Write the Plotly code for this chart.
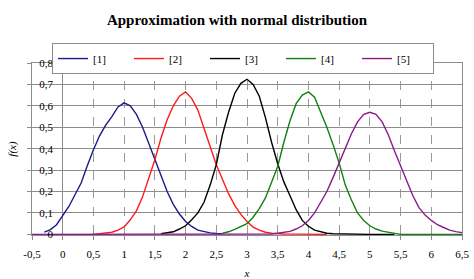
import plotly.graph_objects as go

# ---- data ----
x1 = [-0.3, -0.2, -0.1, 0.0, 0.1, 0.2, 0.3, 0.4, 0.5, 0.6, 0.7, 0.8, 0.9, 1.0, 1.1, 1.2, 1.3,
      1.4, 1.5, 1.6, 1.7, 1.8, 1.9, 2.0, 2.1, 2.2, 2.3, 2.4, 2.5, 2.6]
y1 = [0.01, 0.022, 0.045, 0.085, 0.13, 0.185, 0.24, 0.32, 0.395, 0.46, 0.51, 0.55, 0.595, 0.614,
      0.60, 0.56, 0.50, 0.425, 0.348, 0.27, 0.20, 0.14, 0.095, 0.06, 0.037, 0.02, 0.012, 0.007,
      0.004, 0.003]

x2 = [0.5, 0.6, 0.7, 0.8, 0.9, 1.0, 1.1, 1.2, 1.3, 1.4, 1.5, 1.6, 1.7, 1.8, 1.9, 2.0, 2.1, 2.2,
      2.3, 2.4, 2.5, 2.6, 2.7, 2.8, 2.9, 3.0, 3.1, 3.2, 3.3, 3.4, 3.5, 3.6, 3.8, 4.0, 4.3]
y2 = [0.0, 0.003, 0.006, 0.01, 0.02, 0.035, 0.068, 0.11, 0.175, 0.26, 0.348, 0.45, 0.535, 0.60,
      0.645, 0.665, 0.635, 0.58, 0.50, 0.41, 0.325, 0.255, 0.19, 0.135, 0.093, 0.06, 0.034,
      0.02, 0.01, 0.005, 0.003, 0.002, 0.001, 0.0, 0.0]

x3 = [1.6, 1.7, 1.8, 1.9, 2.0, 2.1, 2.2, 2.3, 2.4, 2.5, 2.6, 2.7, 2.8, 2.9, 3.0, 3.1, 3.2, 3.3,
      3.4, 3.5, 3.6, 3.7, 3.8, 3.9, 4.0, 4.1, 4.2, 4.3, 4.4, 4.6, 5.0, 5.4]
y3 = [0.003, 0.006, 0.012, 0.025, 0.04, 0.068, 0.10, 0.15, 0.23, 0.325, 0.465, 0.57, 0.658,
      0.705, 0.724, 0.70, 0.645, 0.545, 0.43, 0.33, 0.245, 0.18, 0.115, 0.065, 0.038, 0.02,
      0.011, 0.005, 0.003, 0.001, 0.0, 0.0]

x4 = [2.6, 2.7, 2.8, 2.9, 3.0, 3.1, 3.2, 3.3, 3.4, 3.5, 3.6, 3.7, 3.8, 3.9, 4.0, 4.1, 4.2, 4.3,
      4.4, 4.5, 4.6, 4.7, 4.8, 4.9, 5.0, 5.1, 5.2, 5.3, 5.4, 5.5, 6.0, 6.5]
y4 = [0.005, 0.012, 0.023, 0.035, 0.05, 0.08, 0.12, 0.17, 0.24, 0.317, 0.43, 0.53, 0.61, 0.65,
      0.665, 0.64, 0.57, 0.50, 0.42, 0.333, 0.23, 0.16, 0.10, 0.065, 0.04, 0.025, 0.015, 0.009,
      0.004, 0.0, 0.0, 0.0]

x5 = [-0.5, 0.5, 1.5, 2.5, 3.3, 3.4, 3.5, 3.6, 3.7, 3.8, 3.9, 4.0, 4.1, 4.2, 4.3, 4.4, 4.5, 4.6,
      4.7, 4.8, 4.9, 5.0, 5.1, 5.2, 5.3, 5.4, 5.5, 5.6, 5.7, 5.8, 5.9, 6.0, 6.1, 6.2, 6.3, 6.4,
      6.5]
y5 = [0.0, 0.0, 0.0, 0.0, 0.0, 0.002, 0.005, 0.008, 0.014, 0.025, 0.04, 0.065, 0.10, 0.15, 0.20,
      0.265, 0.333, 0.40, 0.47, 0.525, 0.56, 0.57, 0.56, 0.525, 0.465, 0.39, 0.32, 0.245, 0.18,
      0.125, 0.09, 0.065, 0.045, 0.032, 0.02, 0.013, 0.008]

names = ["[1]", "[2]", "[3]", "[4]", "[5]"]
colors = ["#1a1a8a", "#ff1a1a", "#000000", "#118011", "#8a1a8a"]

x_tickvals = [-0.5, 0, 0.5, 1, 1.5, 2, 2.5, 3, 3.5, 4, 4.5, 5, 5.5, 6, 6.5]
x_ticktext = ["-0,5", "0", "0,5", "1", "1,5", "2", "2,5", "3", "3,5", "4", "4,5", "5", "5,5",
              "6", "6,5"]
y_tickvals = [0, 0.1, 0.2, 0.3, 0.4, 0.5, 0.6, 0.7, 0.8]
y_ticktext = ["0", "0,1", "0,2", "0,3", "0,4", "0,5", "0,6", "0,7", "0,8"]

FONT = "'Liberation Serif', 'Times New Roman', Times, 'DejaVu Serif', serif"

fig = go.Figure()
for xs, ys, nm, c in zip([x1, x2, x3, x4, x5], [y1, y2, y3, y4, y5], names, colors):
    fig.add_trace(go.Scatter(x=xs, y=ys, mode="lines", name=nm,
                             line=dict(color=c, width=1.4), hoverinfo="skip"))

# invisible helper trace so the label-only axis is drawn
fig.add_trace(go.Scatter(x=x5, y=y5, yaxis="y2", mode="lines", opacity=0,
                         showlegend=False, hoverinfo="skip"))

fig.update_layout(
    width=474, height=279,
    margin=dict(l=32, r=12, t=63, b=44),
    paper_bgcolor="white", plot_bgcolor="white",
    font=dict(family=FONT, size=11, color="#000000"),
    title=dict(text="Approximation with normal distribution", x=0.5, xanchor="center",
               y=1 - 20 / 279, yanchor="middle", yref="container",
               font=dict(family=FONT, size=15, color="#000000", weight="bold")),
    showlegend=True,
    legend=dict(orientation="h", x=(52 - 32) / 430, xanchor="left", y=1.116, yanchor="top",
                bgcolor="white", bordercolor="#8c8c8c", borderwidth=1,
                font=dict(family=FONT, size=11), entrywidth=31, entrywidthmode="pixels",
                itemwidth=30, tracegroupgap=0),
    xaxis=dict(range=[-0.5, 6.5], tickvals=x_tickvals, ticktext=x_ticktext,
               showgrid=True, gridcolor="#9a9a9a", griddash="dash", gridwidth=1,
               zeroline=True, zerolinecolor="#8c8c8c", zerolinewidth=1,
               showline=True, linecolor="#8c8c8c", linewidth=1, mirror=True,
               ticks="outside", ticklen=4, tickcolor="#8c8c8c", ticklabelstandoff=5,
               tickfont=dict(family=FONT, size=11), automargin=False,
               title=dict(text="<i>x</i>", font=dict(family=FONT, size=11), standoff=10)),
    yaxis=dict(range=[-0.003, 0.8], tickvals=y_tickvals, showticklabels=False,
               showgrid=True, gridcolor="#8c8c8c", gridwidth=1, zeroline=False,
               showline=True, linecolor="#8c8c8c", linewidth=1, mirror=True,
               ticks="outside", ticklen=4, tickcolor="#8c8c8c", automargin=False,
               title=dict(text="<i>f(x)</i>", font=dict(family=FONT, size=11), standoff=8)),
    yaxis2=dict(range=[-0.003, 0.8], overlaying="y", anchor="free", position=(53 - 32) / 430,
                side="left", tickvals=y_tickvals, ticktext=y_ticktext, showgrid=False,
                zeroline=False, showline=False, ticks="", tickfont=dict(family=FONT, size=11),
                automargin=False),
)

fig.write_html("out.html")
